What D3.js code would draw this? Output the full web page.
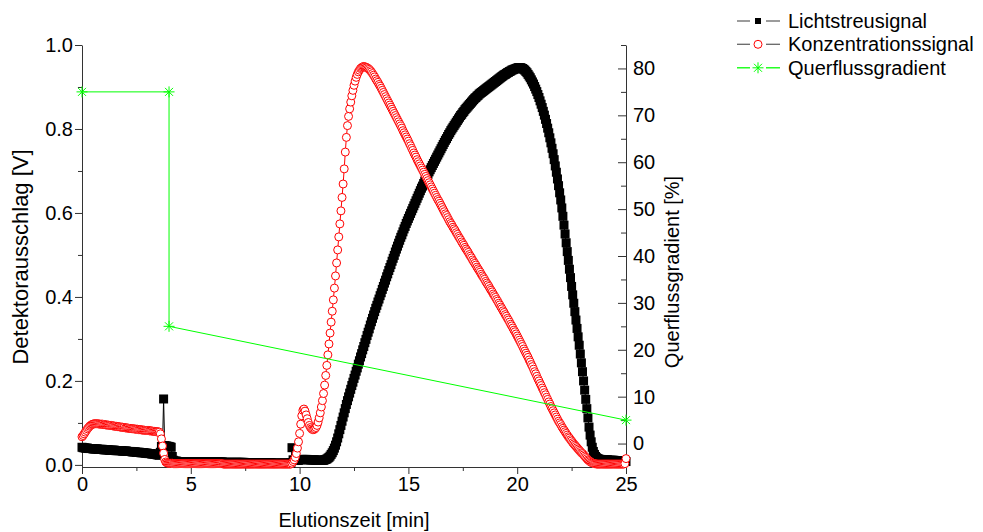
<!DOCTYPE html>
<html><head><meta charset="utf-8">
<script src="https://cdn.jsdelivr.net/npm/d3@7"></script>
<style>body{margin:0;background:#fff}svg{display:block}text{font-family:"Liberation Sans",Arial,Helvetica,sans-serif}</style>
</head><body><svg id="c" width="983" height="532"></svg>
<script>
// sampling grid of the detector signals (minutes)
const timeStart = 0, timeStep = 0.05;

// Lichtstreusignal [V], one value per 0.05 min, 0 ... 25 min
const lichtstreu = [
0.042,0.041,0.041,0.040,0.040,0.040,0.039,0.039,0.039,0.039,0.038,0.038,0.038,0.038,0.038,0.037,0.037,0.037,0.037,0.037,
0.036,0.036,0.036,0.036,0.036,0.035,0.035,0.035,0.035,0.035,0.035,0.034,0.034,0.034,0.034,0.034,0.034,0.033,0.033,0.033,
0.033,0.033,0.032,0.032,0.032,0.032,0.031,0.031,0.031,0.031,0.030,0.030,0.030,0.030,0.029,0.029,0.029,0.029,0.028,0.028,
0.028,0.027,0.027,0.027,0.026,0.026,0.026,0.025,0.025,0.024,0.024,0.023,0.030,0.044,0.046,0.157,0.046,0.045,0.045,0.044,
0.044,0.043,0.042,0.020,0.011,0.009,0.009,0.009,0.008,0.008,0.008,0.008,0.008,0.008,0.008,0.008,0.008,0.008,0.008,0.008,
0.008,0.008,0.008,0.008,0.008,0.008,0.008,0.008,0.008,0.008,0.007,0.007,0.007,0.007,0.007,0.007,0.007,0.007,0.007,0.007,
0.007,0.007,0.007,0.007,0.007,0.007,0.007,0.007,0.007,0.007,0.006,0.006,0.006,0.006,0.006,0.006,0.006,0.006,0.006,0.006,
0.006,0.006,0.006,0.006,0.006,0.006,0.006,0.006,0.006,0.006,0.005,0.005,0.005,0.005,0.005,0.005,0.005,0.005,0.005,0.005,
0.005,0.005,0.005,0.005,0.005,0.005,0.005,0.005,0.005,0.005,0.005,0.005,0.005,0.005,0.005,0.004,0.004,0.004,0.004,0.004,
0.004,0.004,0.004,0.004,0.004,0.004,0.004,0.004,0.004,0.004,0.004,0.004,0.005,0.041,0.012,0.011,0.011,0.011,0.011,0.011,
0.012,0.012,0.013,0.013,0.013,0.013,0.013,0.013,0.012,0.012,0.012,0.012,0.012,0.012,0.012,0.011,0.011,0.011,0.011,0.011,
0.011,0.011,0.011,0.012,0.013,0.014,0.016,0.018,0.021,0.025,0.029,0.034,0.040,0.047,0.055,0.064,0.074,0.084,0.094,0.104,
0.114,0.124,0.134,0.144,0.153,0.162,0.171,0.180,0.189,0.197,0.206,0.214,0.223,0.231,0.240,0.248,0.257,0.265,0.274,0.282,
0.291,0.299,0.308,0.316,0.324,0.333,0.341,0.349,0.357,0.365,0.373,0.380,0.388,0.395,0.403,0.410,0.418,0.425,0.433,0.440,
0.448,0.455,0.463,0.470,0.477,0.485,0.492,0.499,0.507,0.514,0.521,0.528,0.535,0.542,0.548,0.555,0.562,0.568,0.575,0.581,
0.587,0.593,0.599,0.605,0.611,0.617,0.623,0.629,0.635,0.641,0.647,0.653,0.659,0.664,0.670,0.676,0.681,0.687,0.692,0.698,
0.703,0.708,0.713,0.718,0.723,0.728,0.733,0.738,0.743,0.748,0.753,0.758,0.763,0.768,0.773,0.777,0.782,0.787,0.791,0.796,
0.800,0.804,0.808,0.812,0.816,0.820,0.824,0.828,0.832,0.835,0.839,0.842,0.846,0.849,0.852,0.855,0.858,0.861,0.864,0.867,
0.870,0.873,0.875,0.878,0.880,0.883,0.885,0.887,0.889,0.891,0.893,0.895,0.897,0.899,0.901,0.903,0.905,0.907,0.909,0.911,
0.913,0.915,0.917,0.919,0.921,0.923,0.925,0.927,0.929,0.930,0.932,0.934,0.935,0.937,0.938,0.940,0.941,0.942,0.943,0.944,
0.945,0.946,0.946,0.946,0.945,0.944,0.942,0.940,0.937,0.934,0.930,0.926,0.922,0.917,0.912,0.907,0.901,0.895,0.889,0.882,
0.875,0.867,0.859,0.851,0.842,0.833,0.823,0.813,0.802,0.791,0.779,0.767,0.754,0.741,0.727,0.712,0.697,0.681,0.665,0.648,
0.631,0.612,0.592,0.571,0.550,0.529,0.508,0.487,0.466,0.446,0.425,0.405,0.385,0.365,0.345,0.325,0.305,0.285,0.264,0.243,
0.222,0.200,0.178,0.156,0.134,0.112,0.090,0.071,0.055,0.042,0.032,0.025,0.020,0.017,0.015,0.014,0.013,0.013,0.012,0.012,
0.012,0.012,0.012,0.012,0.011,0.011,0.011,0.011,0.011,0.011,0.010,0.010,0.010,0.010,0.010,0.009,0.009,0.009,0.009,0.009,
0.008
];

// Konzentrationssignal [V], one value per 0.05 min, 0 ... 25 min
const konzentration = [
0.067,0.070,0.074,0.078,0.082,0.086,0.089,0.092,0.094,0.096,0.097,0.098,0.098,0.098,0.098,0.098,0.097,0.097,0.097,0.097,
0.096,0.096,0.095,0.095,0.095,0.094,0.094,0.094,0.093,0.093,0.092,0.092,0.092,0.091,0.091,0.090,0.090,0.090,0.089,0.089,
0.088,0.088,0.088,0.087,0.087,0.087,0.086,0.086,0.086,0.085,0.085,0.085,0.084,0.084,0.084,0.083,0.083,0.083,0.082,0.082,
0.082,0.082,0.081,0.081,0.081,0.080,0.080,0.080,0.079,0.079,0.079,0.078,0.074,0.062,0.045,0.028,0.013,0.007,0.005,0.004,
0.004,0.004,0.004,0.004,0.003,0.003,0.003,0.003,0.003,0.003,0.003,0.003,0.003,0.003,0.003,0.003,0.003,0.003,0.003,0.003,
0.003,0.003,0.003,0.003,0.003,0.003,0.003,0.003,0.003,0.003,0.003,0.003,0.003,0.003,0.003,0.003,0.003,0.003,0.003,0.003,
0.003,0.003,0.003,0.003,0.003,0.003,0.003,0.003,0.003,0.003,0.002,0.002,0.002,0.002,0.002,0.002,0.002,0.002,0.002,0.002,
0.002,0.002,0.002,0.002,0.002,0.002,0.002,0.002,0.002,0.002,0.002,0.002,0.002,0.002,0.002,0.002,0.002,0.002,0.002,0.002,
0.002,0.002,0.002,0.002,0.002,0.002,0.002,0.002,0.002,0.002,0.002,0.002,0.002,0.002,0.002,0.002,0.002,0.002,0.002,0.002,
0.002,0.002,0.002,0.002,0.002,0.002,0.002,0.002,0.002,0.002,0.002,0.002,0.002,0.004,0.008,0.012,0.018,0.027,0.040,0.055,
0.075,0.097,0.117,0.130,0.133,0.128,0.119,0.110,0.101,0.094,0.089,0.086,0.084,0.084,0.086,0.089,0.094,0.102,0.112,0.124,
0.138,0.153,0.170,0.190,0.213,0.237,0.262,0.288,0.314,0.340,0.366,0.393,0.421,0.450,0.481,0.512,0.543,0.574,0.605,0.637,
0.669,0.705,0.745,0.780,0.808,0.830,0.848,0.864,0.879,0.892,0.904,0.914,0.923,0.930,0.936,0.940,0.944,0.946,0.948,0.949,
0.948,0.947,0.946,0.944,0.942,0.939,0.936,0.932,0.928,0.924,0.919,0.915,0.911,0.906,0.902,0.897,0.892,0.887,0.882,0.877,
0.872,0.867,0.862,0.857,0.852,0.847,0.842,0.837,0.832,0.827,0.822,0.817,0.812,0.807,0.802,0.796,0.791,0.786,0.781,0.776,
0.771,0.765,0.760,0.754,0.749,0.743,0.738,0.733,0.727,0.722,0.717,0.712,0.707,0.702,0.697,0.692,0.687,0.682,0.677,0.672,
0.667,0.662,0.657,0.652,0.647,0.642,0.637,0.632,0.628,0.623,0.618,0.613,0.608,0.603,0.598,0.594,0.589,0.584,0.579,0.575,
0.571,0.566,0.562,0.558,0.553,0.549,0.544,0.540,0.536,0.531,0.527,0.523,0.518,0.514,0.510,0.506,0.501,0.497,0.493,0.488,
0.484,0.480,0.476,0.471,0.467,0.463,0.459,0.454,0.450,0.446,0.442,0.437,0.433,0.429,0.425,0.420,0.416,0.412,0.407,0.403,
0.399,0.394,0.390,0.385,0.381,0.376,0.372,0.367,0.363,0.358,0.354,0.349,0.345,0.340,0.335,0.331,0.326,0.321,0.317,0.312,
0.307,0.302,0.297,0.292,0.287,0.282,0.276,0.271,0.266,0.261,0.256,0.250,0.245,0.239,0.234,0.228,0.222,0.217,0.211,0.205,
0.200,0.194,0.189,0.183,0.178,0.172,0.167,0.161,0.156,0.150,0.145,0.139,0.134,0.129,0.124,0.119,0.114,0.109,0.104,0.100,
0.096,0.091,0.087,0.083,0.079,0.075,0.071,0.067,0.064,0.060,0.057,0.053,0.050,0.047,0.044,0.041,0.038,0.035,0.032,0.029,
0.027,0.024,0.021,0.018,0.015,0.012,0.010,0.008,0.006,0.005,0.004,0.003,0.003,0.002,0.002,0.002,0.002,0.002,0.002,0.002,
0.002,0.002,0.002,0.002,0.002,0.002,0.002,0.002,0.002,0.002,0.002,0.002,0.002,0.002,0.002,0.002,0.002,0.002,0.002,0.003,
0.015
];

// Querflussgradient [%]
const gradientTime  = [0, 4, 4, 25];
const gradientValue = [75, 75, 25, 5];

// axes
const xTicks = [0, 5, 10, 15, 20, 25];
const xMinorTicks = [2.5, 7.5, 12.5, 17.5, 22.5];
const yLeftTicks = [0, 0.2, 0.4, 0.6, 0.8, 1.0];
const yLeftMinorTicks = [0.1, 0.3, 0.5, 0.7, 0.9];
const yRightTicks = [0, 10, 20, 30, 40, 50, 60, 70, 80];
const yRightMinorTicks = [5, 15, 25, 35, 45, 55, 65, 75, 85];
const legendLabels = ["Lichtstreusignal", "Konzentrationssignal", "Querflussgradient"];
const xTitle = "Elutionszeit [min]";
const yLeftTitle = "Detektorausschlag [V]";
const yRightTitle = "Querflussgradient [%]";

// ---------- drawing ----------
const svg = d3.select("#c");
const L = 82, R = 626, T = 45, B = 467;
const x = d3.scaleLinear().domain([0, 25]).range([L, R]);
const yL = d3.scaleLinear().domain([-0.005, 1.0]).range([B, T]);
const yR = d3.scaleLinear().domain([-5, 85]).range([B, T]);
const axisColor = "#333";
const fs = 20;

function styleAxis(g) {
  g.selectAll("path,line").attr("stroke", axisColor).attr("stroke-width", 1);
  g.selectAll("text").attr("fill", "#000").attr("font-size", fs)
    .attr("font-family", '"Liberation Sans",Arial,sans-serif');
}
function minor(g) { g.select(".domain").remove(); g.selectAll("line").attr("stroke", axisColor); g.selectAll("text").remove(); }

// bottom axis
svg.append("g").attr("transform", `translate(0,${B})`)
  .call(d3.axisBottom(x).tickValues(xTicks).tickFormat(d3.format("d")).tickSize(7).tickSizeOuter(0).tickPadding(3))
  .call(styleAxis);
svg.append("g").attr("transform", `translate(0,${B})`)
  .call(d3.axisBottom(x).tickValues(xMinorTicks).tickSize(4).tickFormat(() => "")).call(minor);

// left axis
svg.append("g").attr("transform", `translate(${L},0)`)
  .call(d3.axisLeft(yL).tickValues(yLeftTicks).tickFormat(d3.format(".1f")).tickSize(7).tickSizeOuter(0).tickPadding(2))
  .call(styleAxis);
svg.append("g").attr("transform", `translate(${L},0)`)
  .call(d3.axisLeft(yL).tickValues(yLeftMinorTicks).tickSize(4).tickFormat(() => "")).call(minor);

// right axis (ticks pointing inward)
svg.append("g").attr("transform", `translate(${R},0)`)
  .call(d3.axisRight(yR).tickValues(yRightTicks).tickFormat(d3.format("d")).tickSizeInner(-8).tickSizeOuter(0).tickPadding(7))
  .call(styleAxis);
svg.append("g").attr("transform", `translate(${R},0)`)
  .call(d3.axisRight(yR).tickValues(yRightMinorTicks).tickSizeInner(-5).tickSizeOuter(0).tickFormat(() => "")).call(minor);

// titles
svg.append("text").attr("x", (L + R) / 2).attr("y", 527).attr("text-anchor", "middle")
  .attr("font-size", fs).text(xTitle);
svg.append("text").attr("transform", "translate(28,257) rotate(-90)").attr("text-anchor", "middle")
  .attr("font-size", 22).text(yLeftTitle);
svg.append("text").attr("transform", "translate(679,272) rotate(-90)").attr("text-anchor", "middle")
  .attr("font-size", fs).text(yRightTitle);

// data
const lichtData = lichtstreu.map((v, i) => ({ t: timeStart + i * timeStep, v }));
const konzData = konzentration.map((v, i) => ({ t: timeStart + i * timeStep, v }));
const gradData = gradientTime.map((t, i) => ({ t, v: gradientValue[i] }));

const lineL = d3.line().x(d => x(d.t)).y(d => yL(d.v));
const lineR = d3.line().x(d => x(d.t)).y(d => yR(d.v));
const sq = 9;

// Lichtstreusignal
svg.append("path").datum(lichtData).attr("d", lineL).attr("fill", "none").attr("stroke", "#000").attr("stroke-width", 1);
svg.append("g").selectAll("rect").data(lichtData).join("rect")
  .attr("x", d => x(d.t) - sq / 2).attr("y", d => yL(d.v) - sq / 2)
  .attr("width", sq).attr("height", sq).attr("fill", "#000");

// Konzentrationssignal
svg.append("path").datum(konzData).attr("d", lineL).attr("fill", "none").attr("stroke", "#ff0000").attr("stroke-width", 1);
svg.append("g").selectAll("circle").data(konzData).join("circle")
  .attr("cx", d => x(d.t)).attr("cy", d => yL(d.v)).attr("r", 4)
  .attr("fill", "#fff").attr("stroke", "#ff0000").attr("stroke-width", 1);

// Querflussgradient
const green = "#00ff00";
const starPath = "M-5.5,0H5.5M0,-5.5V5.5M-4,-4L4,4M-4,4L4,-4";
svg.append("path").datum(gradData).attr("d", lineR).attr("fill", "none").attr("stroke", green).attr("stroke-width", 1);
svg.append("g").selectAll("path").data(gradData).join("path")
  .attr("transform", d => `translate(${x(d.t)},${yR(d.v)})`)
  .attr("d", starPath).attr("stroke", green).attr("stroke-width", 1).attr("fill", "none");

// legend
const legRows = [21, 44.3, 67.8];
const lg = svg.append("g");
legendLabels.forEach((lab, i) => {
  const cy = legRows[i];
  const lc = i === 2 ? green : "#666";
  lg.append("line").attr("x1", 737).attr("x2", 750).attr("y1", cy).attr("y2", cy).attr("stroke", lc).attr("stroke-width", 1.3);
  lg.append("line").attr("x1", 766).attr("x2", 780).attr("y1", cy).attr("y2", cy).attr("stroke", lc).attr("stroke-width", 1.3);
  if (i === 0) lg.append("rect").attr("x", 758 - 3).attr("y", cy - 3).attr("width", 6).attr("height", 6).attr("fill", "#000");
  if (i === 1) lg.append("circle").attr("cx", 758).attr("cy", cy).attr("r", 4).attr("fill", "#fff").attr("stroke", "#ff0000");
  if (i === 2) lg.append("path").attr("transform", `translate(758,${cy})`).attr("d", starPath).attr("stroke", green).attr("fill", "none");
  lg.append("text").attr("x", 788).attr("y", cy + 6.8).attr("font-size", fs).attr("fill", "#000").text(lab);
});
</script>
</body></html>
